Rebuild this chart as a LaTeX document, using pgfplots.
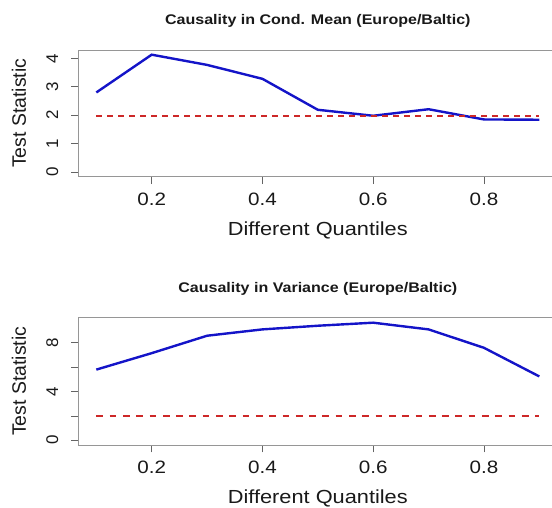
\documentclass[border=0pt]{standalone}
\usepackage{fontspec}
\setmainfont{Liberation Sans}[FakeStretch=1.15]
\newfontfamily\rotfont{Liberation Sans}
\usepackage{pgfplots}
\pgfplotsset{compat=1.18}

\definecolor{lineblue}{RGB}{20,20,200}
\definecolor{critred}{RGB}{205,40,40}
\definecolor{boxgray}{RGB}{150,150,150}
\definecolor{tickgray}{RGB}{100,100,100}
\definecolor{txt}{RGB}{25,25,25}

\pgfplotsset{
  rpanel/.style={
    scale only axis,
    width=478.4bp,
    xmin=0.068, xmax=0.932,
    xtick={0.2,0.4,0.6,0.8},
    xticklabels={0.2,0.4,0.6,0.8},
    xtick pos=bottom, ytick pos=left,
    tick align=outside,
    major tick length=7.5bp,
    every tick/.style={tickgray, line width=0.8bp},
    axis line style={boxgray, line width=0.9bp},
    /pgf/number format/assume math mode=true,
    xticklabel style={font=\fontsize{18}{18}\selectfont, text=txt, anchor=base, yshift=-21bp},
    yticklabel style={font=\rotfont\fontsize{17}{17}\selectfont, text=txt, inner sep=0pt, xshift=-13bp, rotate=90, anchor=base},
    every axis title/.style={at={(axis description cs:0.5,1)}, anchor=base, yshift=25.5bp,
      font=\bfseries\fontsize{14}{14}\selectfont, text=txt},
    every axis x label/.style={at={(axis description cs:0.5,0)}, anchor=base, yshift=-58.5bp,
      font=\fontsize{19}{19}\selectfont, text=txt},
    every axis y label/.style={at={(axis description cs:0,0.5)}, xshift=-52.6bp, rotate=90, anchor=base,
      font=\rotfont\fontsize{19.5}{19.5}\selectfont, text=txt},
    xlabel={Different Quantiles},
    ylabel={Test Statistic},
  },
  stat/.style={lineblue, line width=2.4bp, no marks},
  crit/.style={critred, line width=2.3bp, no marks, dash pattern=on 5.5bp off 5.5bp},
}

\begin{document}
\begin{tikzpicture}[x=1bp,y=1bp]
\path[use as bounding box] (0,0) rectangle (552,508);
\clip (0,0) rectangle (552,508);

% conditional mean
\begin{axis}[rpanel,
    at={(78.6bp,331.3bp)}, anchor=south west,
    height=126.7bp,
    ymin=-0.165, ymax=4.295,
    ytick={0,1,2,3,4},
    title={Causality in Cond. Mean (Europe/Baltic)},
]
\addplot[stat] coordinates {
  (0.1,2.80) (0.2,4.13) (0.3,3.77) (0.4,3.28) (0.5,2.19)
  (0.6,1.98) (0.7,2.21) (0.8,1.85) (0.9,1.84)
};
\addplot[crit] coordinates {(0.1,1.96) (0.9,1.96)};
\end{axis}

% variance
\begin{axis}[rpanel,
    at={(78.6bp,63bp)}, anchor=south west,
    height=127.3bp,
    ymin=-0.387, ymax=10.06,
    ytick={0,2,4,6,8},
    yticklabels={0,,4,,8},
    title={Causality in Variance (Europe/Baltic)},
]
\addplot[stat] coordinates {
  (0.1,5.80) (0.2,7.15) (0.3,8.58) (0.4,9.10) (0.5,9.40)
  (0.6,9.65) (0.7,9.10) (0.8,7.59) (0.9,5.24)
};
\addplot[crit, line width=1.8bp, dash pattern=on 6.7bp off 6.6bp] coordinates {(0.1,1.96) (0.9,1.96)};
\end{axis}
\end{tikzpicture}
\end{document}
